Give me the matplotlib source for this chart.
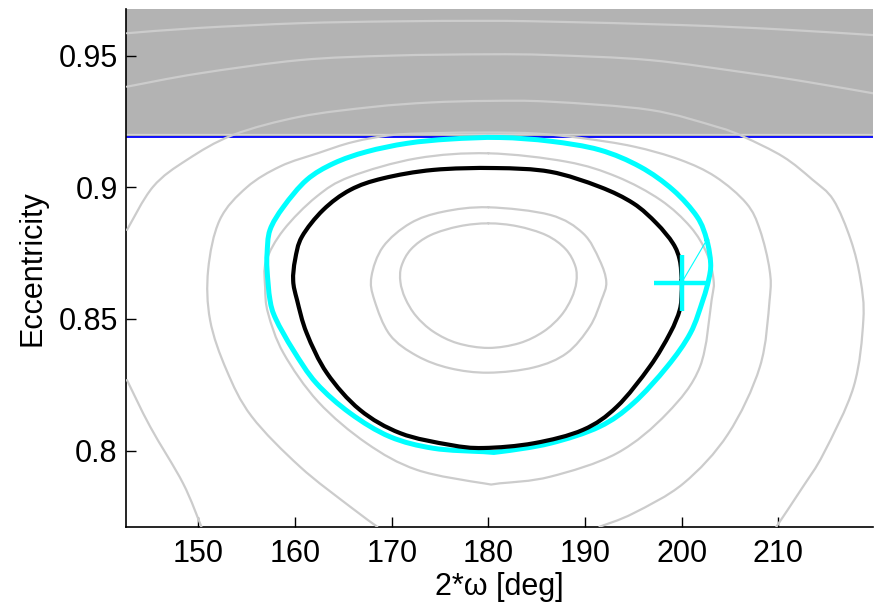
import matplotlib
matplotlib.use("Agg")
import matplotlib.pyplot as plt
import numpy as np
from matplotlib.path import Path
from matplotlib.patches import PathPatch

plt.rcParams['font.family'] = ['Liberation Sans', 'DejaVu Sans']

# ---- data ----
x_ticks = [150, 160, 170, 180, 190, 200, 210]
y_ticks = [0.8, 0.85, 0.9, 0.95]
y_tick_labels = ['0.8', '0.85', '0.9', '0.95']
x_limits = (142.5, 219.8)
y_limits = (0.771, 0.9677)
limit_e = 0.9192          # blue boundary line, grey forbidden region above
edge_e = 0.9204           # light edge of the grey region

# grey contour curves (2*omega [deg], eccentricity)
c1_x = [180.0, 177.0, 174.0, 172.0, 171.0, 170.9, 171.4, 172.5, 174.3, 176.8, 180.0,
        183.2, 185.7, 187.5, 188.6, 189.1, 189.0, 188.0, 186.0, 183.0, 180.0]
c1_e = [0.8863, 0.8852, 0.8818, 0.8765, 0.8700, 0.8640, 0.8578, 0.8512, 0.8452, 0.8408, 0.8390,
        0.8408, 0.8452, 0.8512, 0.8578, 0.8640, 0.8700, 0.8765, 0.8818, 0.8852, 0.8863]

c2_x = [180.0, 175.3, 171.9, 169.1, 167.9, 168.2, 169.8, 172.6, 176.0, 180.0,
        184.7, 188.1, 190.5, 191.7, 192.2, 191.5, 189.8, 186.4, 180.0]
c2_e = [0.8924, 0.8907, 0.8863, 0.8774, 0.8661, 0.8572, 0.8440, 0.8360, 0.8313, 0.8296,
        0.8316, 0.8370, 0.8471, 0.8572, 0.8640, 0.8724, 0.8825, 0.8895, 0.8924]

c3_x = [180.0, 172.6, 165.7, 162.2, 158.8, 157.0, 156.9, 157.2, 158.8, 162.4, 167.4, 172.6,
        179.5, 181.2, 186.4, 193.3, 198.5, 201.9, 203.1, 203.3, 202.6, 200.9, 197.8, 193.3,
        188.1, 180.0]
c3_e = [0.9129, 0.9110, 0.9040, 0.8964, 0.8838, 0.8720, 0.8620, 0.8522, 0.8370, 0.8185, 0.8028, 0.7927,
        0.7876, 0.7876, 0.7901, 0.7990, 0.8142, 0.8319, 0.8572, 0.8648, 0.8749, 0.8850, 0.8952, 0.9040,
        0.9097, 0.9129]

c4_x = [168.5, 165.7, 160.5, 155.5, 152.9, 151.2, 151.0, 152.2, 155.0, 158.5, 162.4, 166.0, 170.2,
        175.0, 180.0, 185.0, 189.8, 195.0, 199.8, 203.5, 206.7, 208.1, 209.1, 209.1, 208.1,
        204.8, 200.2, 195.0, 191.5]
c4_e = [0.7711, 0.7787, 0.7939, 0.8130, 0.8306, 0.8496, 0.8686, 0.8876, 0.9000, 0.9080, 0.9130, 0.9172, 0.9199,
        0.9206, 0.9208, 0.9204, 0.9186, 0.9155, 0.9105, 0.9040, 0.8939, 0.8838, 0.8686, 0.8572, 0.8319,
        0.8063, 0.7876, 0.7762, 0.7711]

c5_x = [142.6, 145.3, 148.8, 153.6, 160.5, 168.0, 174.0, 180.0, 186.4, 196.7, 203.6, 206.4,
        210.5, 213.5, 215.7, 217.5, 218.5, 218.8, 217.8, 214.7, 212.5, 209.8]
c5_e = [0.8838, 0.9002, 0.9104, 0.9199, 0.9268, 0.9305, 0.9322, 0.9328, 0.9325, 0.9294, 0.9230, 0.9192,
        0.9116, 0.9030, 0.8952, 0.8800, 0.8650, 0.8496, 0.8243, 0.7990, 0.7860, 0.7711]

c5b_x = [142.6, 145.0, 148.4, 150.3]
c5b_e = [0.8268, 0.8091, 0.7876, 0.7711]

u1_x = [142.6, 150.0, 160.5, 170.0, 180.0, 186.4, 196.7, 207.1, 213.0, 219.8]
u1_e = [0.9382, 0.9432, 0.9483, 0.9500, 0.9505, 0.9502, 0.9483, 0.9433, 0.9400, 0.9357]

u2_x = [142.6, 150.0, 160.5, 170.0, 180.0, 186.4, 200.0, 210.0, 219.8]
u2_e = [0.9585, 0.9605, 0.9623, 0.9630, 0.9632, 0.9629, 0.9616, 0.9600, 0.9578]

# black trajectory
blk_x = [200.0, 199.8, 199.1, 197.4, 195.0, 191.5, 186.4, 180.7, 174.3, 169.1, 165.7, 162.9,
         160.7, 160.0, 159.8, 160.2, 161.2, 163.3, 166.7, 170.9, 176.0, 179.5, 184.7, 189.8,
         193.3, 196.7, 198.8, 199.8, 200.0, 200.0]
blk_e = [0.8648, 0.8724, 0.8787, 0.8863, 0.8939, 0.9002, 0.9059, 0.9073, 0.9066, 0.9034, 0.8990, 0.8914,
         0.8812, 0.8725, 0.8645, 0.8572, 0.8446, 0.8294, 0.8155, 0.8066, 0.8022, 0.8010, 0.8028, 0.8079,
         0.8167, 0.8319, 0.8446, 0.8534, 0.8600, 0.8648]

# cyan trajectory
cy_x = [202.6, 201.6, 199.1, 195.7, 191.5, 186.4, 181.2, 176.0, 171.6, 167.4, 164.0, 161.2,
        158.8, 157.4, 157.1, 157.1, 157.4, 158.0, 159.8, 162.2, 165.7, 169.8, 174.3, 179.5,
        181.2, 186.4, 191.5, 195.0, 198.5, 200.9, 202.2, 202.8, 203.0, 202.6]
cy_e = [0.8800, 0.8888, 0.8990, 0.9078, 0.9142, 0.9175, 0.9189, 0.9183, 0.9167, 0.9135, 0.9091, 0.9028,
        0.8926, 0.8838, 0.8749, 0.8686, 0.8572, 0.8500, 0.8382, 0.8256, 0.8142, 0.8053, 0.8009, 0.7996,
        0.7996, 0.8028, 0.8091, 0.8180, 0.8319, 0.8446, 0.8572, 0.8650, 0.8711, 0.8800]

# initial condition marker and its link
ic_x, ic_e = 200.0, 0.8638
link_x = [200.0, 202.6]
link_e = [0.8638, 0.8800]


def smooth_curve(ax, xs, es, **kw):
    """Draw a smooth (Catmull-Rom style Bezier) line through the read points."""
    pts = np.column_stack([xs, es]).astype(float)
    closed = np.allclose(pts[0], pts[-1])
    if closed:
        pts = pts[:-1]
    n = len(pts)
    verts = [pts[0]]
    codes = [Path.MOVETO]
    segs = range(n) if closed else range(n - 1)
    for i in segs:
        if closed:
            p0, p1, p2, p3 = pts[(i - 1) % n], pts[i], pts[(i + 1) % n], pts[(i + 2) % n]
        else:
            p0 = pts[max(i - 1, 0)]
            p1, p2 = pts[i], pts[i + 1]
            p3 = pts[min(i + 2, n - 1)]
        verts += [p1 + (p2 - p0) / 6.0, p2 - (p3 - p1) / 6.0, p2]
        codes += [Path.CURVE4] * 3
    patch = PathPatch(Path(verts, codes), fill=False, capstyle='round',
                      joinstyle='round', **kw)
    ax.add_patch(patch)


# ---- figure ----
fig = plt.figure(figsize=(8.88, 6.05), dpi=100)
ax = fig.add_axes([126 / 888, 1 - 527 / 605, (873 - 126) / 888, (527 - 9) / 605])

ax.axhspan(limit_e, y_limits[1], color='#b3b3b3', lw=0, zorder=0)
ax.axhline(edge_e, color='#d4d4d4', lw=0.9, zorder=1)
ax.axhline(limit_e, color='#0000ff', lw=1.3, zorder=1)

grey = '#cccccc'
for xs, es in [(c1_x, c1_e), (c2_x, c2_e), (c3_x, c3_e), (c4_x, c4_e), (c5_x, c5_e),
               (c5b_x, c5b_e), (u1_x, u1_e), (u2_x, u2_e)]:
    smooth_curve(ax, xs, es, edgecolor=grey, lw=1.6, zorder=2)

smooth_curve(ax, cy_x, cy_e, edgecolor='#00ffff', lw=3.6, zorder=3)
smooth_curve(ax, blk_x, blk_e, edgecolor='black', lw=3.0, zorder=4)
ax.plot(link_x, link_e, color='#00ffff', lw=0.8, zorder=5)
ax.plot([ic_x], [ic_e], marker='+', color='#00ffff', markersize=40, mew=3.2, zorder=5)

ax.set_xlim(*x_limits)
ax.set_ylim(*y_limits)
ax.set_xticks(x_ticks)
ax.set_yticks(y_ticks)
ax.set_yticklabels(y_tick_labels)
ax.tick_params(direction='in', length=7, width=1, labelsize=22, color='black')
ax.tick_params(axis='x', pad=9)
ax.tick_params(axis='y', pad=6)
for s in ['top', 'right']:
    ax.spines[s].set_visible(False)
for s in ['left', 'bottom']:
    ax.spines[s].set_linewidth(1.2)
    ax.spines[s].set_zorder(1.5)

ax.set_xlabel('2*ω [deg]', fontsize=22, labelpad=2)
ax.set_ylabel('Eccentricity', fontsize=22, labelpad=8)

fig.savefig('out.png', dpi=100)
